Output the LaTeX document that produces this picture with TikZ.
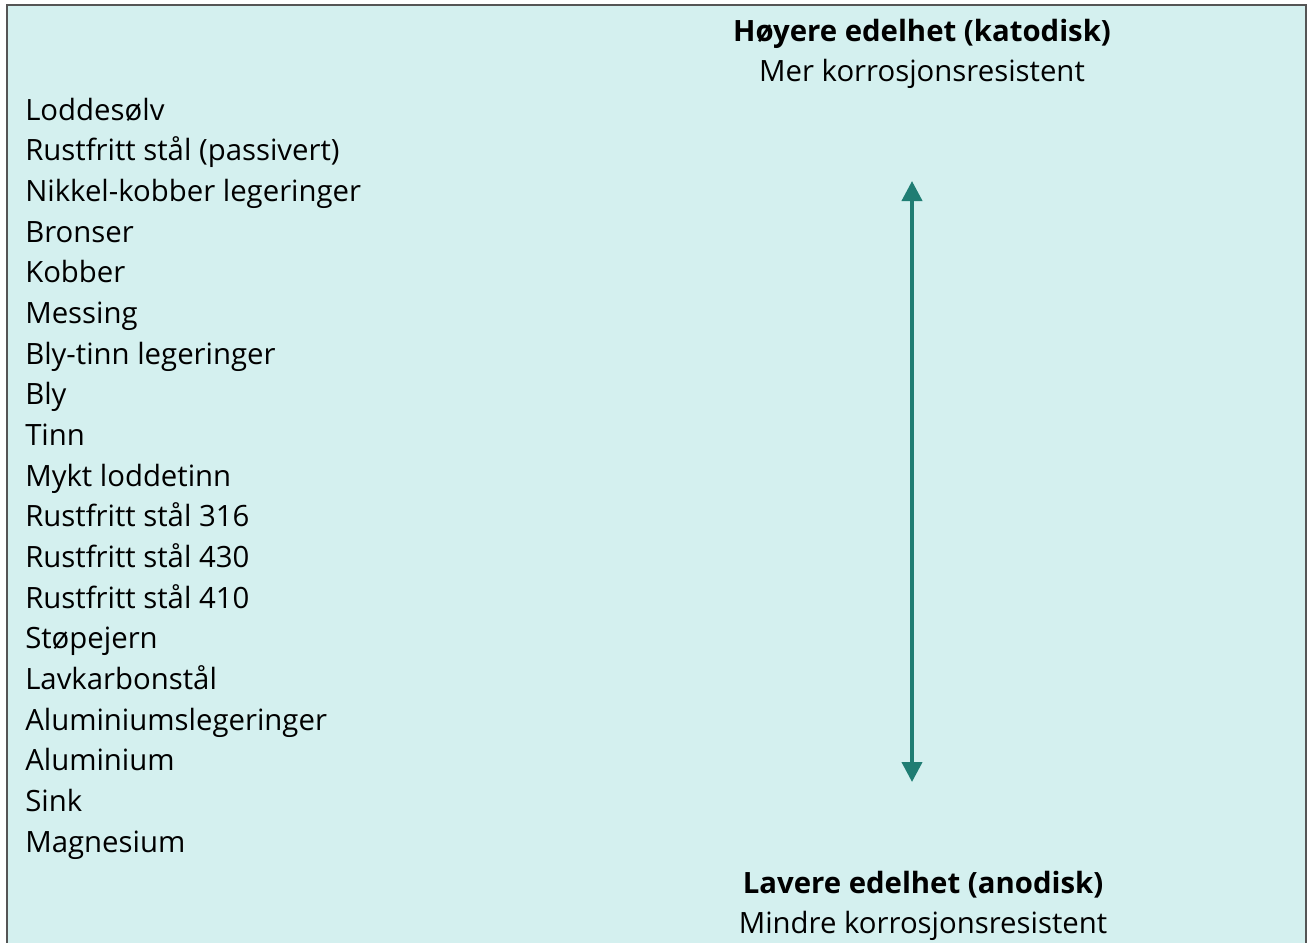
\documentclass[tikz,border=0pt]{standalone}
\usepackage{fontspec}
\setmainfont{Open Sans}
\usepackage{tikz}
\usetikzlibrary{arrows.meta, positioning}
\definecolor{galvbg}{RGB}{212, 240, 239}
\definecolor{galvframe}{RGB}{85, 85, 85}
\definecolor{galvteal}{RGB}{31, 125, 115}

\begin{document}
\begin{tikzpicture}[x=0.75pt, y=-0.75pt,
        metal/.style={anchor=base west, inner sep=0pt,
                      font=\fontsize{22}{26}\selectfont},
        heading/.style={anchor=base, inner sep=0pt, font=\fontsize{22}{26}\selectfont\bfseries},
        sub/.style={anchor=base, inner sep=0pt, font=\fontsize{22}{26}\selectfont},
        nobility/.style={galvteal, line width=3pt,
                      {Triangle[width=15pt, length=15pt]}-{Triangle[width=15pt, length=15pt]}},
      ]
        \useasboundingbox (0,0) rectangle (1308,942);
        \fill[white] (0,0) rectangle (1308,942);
        \begin{scope}
          \clip (0,0) rectangle (1308,942);
          \draw[galvframe, fill=galvbg, line width=1.5pt] (7,5) rectangle (1306,980);
        \end{scope}

        % cathodic end
        \node[heading] (high) at (922,41) {Høyere edelhet (katodisk)};
        \node[sub] (highsub) at (922,81) {Mer korrosjonsresistent};

        % galvanic series
        \foreach \name [count=\i] in {Loddesølv, Rustfritt stål (passivert),
            Nikkel-kobber legeringer, Bronser, Kobber, Messing,
            Bly-tinn legeringer, Bly, Tinn, Mykt loddetinn,
            Rustfritt stål 316, Rustfritt stål 430, Rustfritt stål 410,
            Støpejern, Lavkarbonstål, Aluminiumslegeringer, Aluminium,
            Sink, Magnesium}
          \node[metal] (m\i) at (25,{120+40.67*(\i-1)}) {\name};

        % anodic end
        \node[heading] (low) at (923,893) {Lavere edelhet (anodisk)};
        \node[sub] (lowsub) at (923,933) {Mindre korrosjonsresistent};

        \coordinate (top) at (912,181);
        \coordinate (bot) at (912,782);
        \draw[nobility] (bot) -- (top);
      \end{tikzpicture}
\end{document}
